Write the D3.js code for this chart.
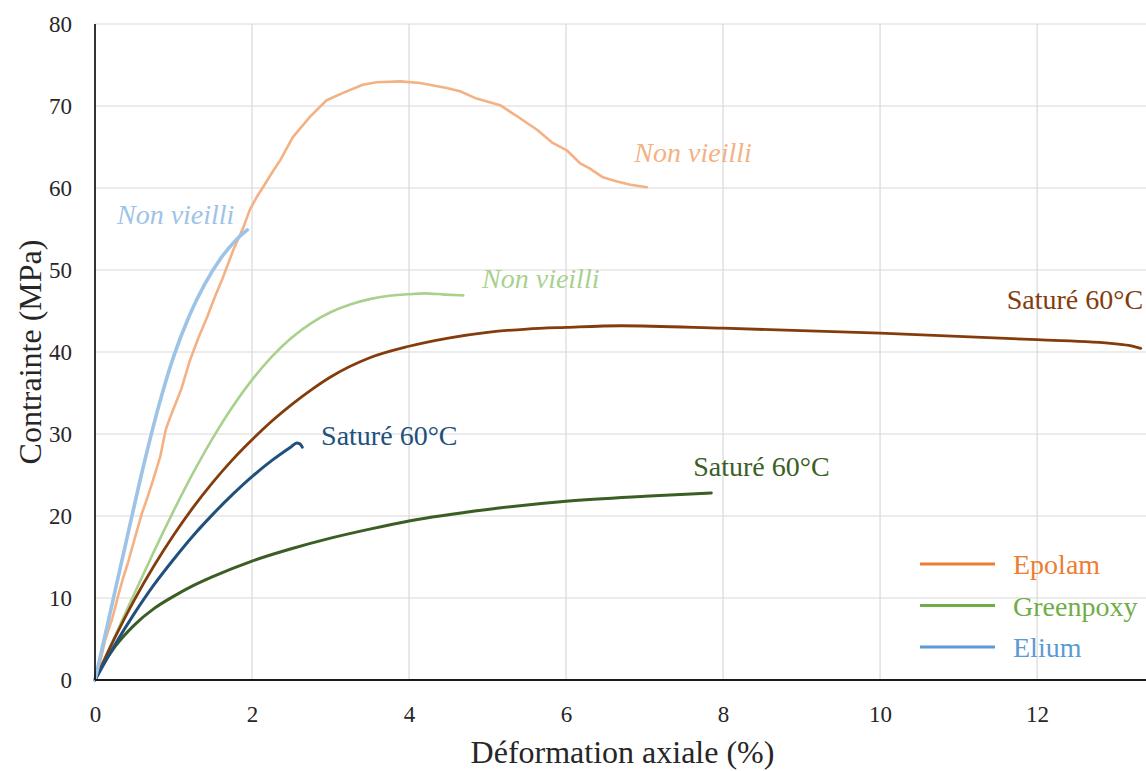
<!DOCTYPE html>
<html><head><meta charset="utf-8">
<script src="https://cdn.jsdelivr.net/npm/d3@7"></script>
<style>
html,body{margin:0;padding:0;background:#fff;}
svg{display:block;font-family:"Liberation Serif","Times New Roman",serif;}
</style></head>
<body>
<svg id="chart" width="1146" height="771"></svg>
<script>
// ---- data (strain %, stress MPa) ----
const xTicks = [0, 2, 4, 6, 8, 10, 12];
const yTicks = [0, 10, 20, 30, 40, 50, 60, 70, 80];

const epolamNV = [[0,0],[0.06,2],[0.13,4.9],[0.22,7.5],[0.29,10.1],[0.36,12.5],[0.42,14.3],[0.51,17.4],[0.6,20.4],[0.67,22.3],[0.74,24.4],[0.83,27.2],[0.9,30.5],[0.96,32.1],[1.1,35.5],[1.21,39],[1.32,41.8],[1.43,44.3],[1.53,46.8],[1.63,49.1],[1.76,52.4],[1.89,55.2],[1.97,57.3],[2.06,58.9],[2.14,60.1],[2.25,61.8],[2.36,63.4],[2.52,66.2],[2.74,68.7],[2.95,70.7],[3.16,71.6],[3.41,72.6],[3.59,72.9],[3.89,73.0],[4.14,72.8],[4.48,72.2],[4.65,71.8],[4.86,70.9],[5.16,70.1],[5.4,68.6],[5.63,67.1],[5.83,65.5],[6.01,64.6],[6.18,63],[6.3,62.4],[6.47,61.3],[6.65,60.8],[6.82,60.4],[7.03,60.1]];
const greenpoxyNV = [[0,0],[0.25,5.25],[0.5,10.5],[0.75,15.65],[1.0,20.6],[1.25,25.25],[1.5,29.5],[1.75,33.3],[2.0,36.6],[2.25,39.4],[2.5,41.7],[2.75,43.5],[3.0,44.85],[3.25,45.8],[3.5,46.45],[3.75,46.85],[4.0,47.05],[4.2,47.15],[4.45,47.0],[4.69,46.9]];
const eliumNV = [[0,0],[0.2,8.5],[0.4,17],[0.6,25.4],[0.8,33],[1.0,39.4],[1.2,44.4],[1.4,48.3],[1.6,51.4],[1.8,53.7],[1.94,54.9]];
const epolamSat = [[0,0],[0.25,5.1],[0.5,9.75],[0.75,13.9],[1.0,17.65],[1.25,21.05],[1.5,24.1],[1.75,26.85],[2.0,29.3],[2.25,31.55],[2.5,33.55],[2.75,35.35],[3.0,36.95],[3.5,39.3],[4.0,40.7],[4.5,41.7],[5.0,42.4],[5.5,42.8],[6.0,43.0],[6.7,43.2],[8.0,42.9],[10.0,42.3],[12.0,41.5],[13.0,41.0],[13.2,40.75],[13.32,40.45]];
const greenpoxySat = [[0,0],[0.1,1.8],[0.25,4.0],[0.5,6.7],[0.75,8.7],[1.0,10.2],[1.25,11.5],[1.5,12.6],[2.0,14.5],[2.5,16.0],[3.0,17.3],[3.5,18.4],[4.0,19.4],[5.0,20.8],[6.0,21.8],[7.0,22.4],[7.85,22.8]];
const eliumSat = [[0,0],[0.25,4.25],[0.5,8.1],[0.75,11.6],[1.0,14.7],[1.25,17.6],[1.5,20.2],[1.75,22.6],[2.0,24.8],[2.25,26.75],[2.5,28.45],[2.57,28.9],[2.61,28.8],[2.64,28.4]];

const legendNames = ["Epolam", "Greenpoxy", "Elium"];
const labelNonVieilli = "Non vieilli";
const labelSature = "Saturé 60°C";
const xTitle = "Déformation axiale (%)";
const yTitle = "Contrainte (MPa)";

// ---- layout / style ----
const svg = d3.select("#chart");
const x = d3.scaleLinear().domain([0, 13.4]).range([95, 1147]);
const y = d3.scaleLinear().domain([0, 80]).range([680, 24]);

const series = [
  {data: epolamNV, color: "#F4B183", w: 2.6, curve: d3.curveLinear},
  {data: greenpoxyNV, color: "#A9D18E", w: 2.6, curve: d3.curveMonotoneX},
  {data: epolamSat, color: "#843C0C", w: 2.8, curve: d3.curveMonotoneX},
  {data: greenpoxySat, color: "#3B5E25", w: 3, curve: d3.curveMonotoneX},
  {data: eliumSat, color: "#22507E", w: 3, curve: d3.curveMonotoneX},
  {data: eliumNV, color: "#9DC3E6", w: 3.6, curve: d3.curveMonotoneX}
];

// gridlines
svg.append("g").selectAll("line.h").data(yTicks).join("line")
  .attr("x1", x(0)).attr("x2", 1146).attr("y1", d => y(d)).attr("y2", d => y(d))
  .attr("stroke", "#D9D9D9").attr("stroke-width", 1.2);
svg.append("g").selectAll("line.v").data(xTicks.slice(1)).join("line")
  .attr("x1", d => x(d)).attr("x2", d => x(d)).attr("y1", y(80)).attr("y2", y(0))
  .attr("stroke", "#D9D9D9").attr("stroke-width", 1.2);

// axes
const xAxis = d3.axisBottom(x).tickValues(xTicks).tickSize(0).tickPadding(26).tickFormat(d3.format("d"));
const gx = svg.append("g").attr("transform", `translate(0,${y(0)})`).call(xAxis);
gx.select(".domain").remove();
gx.selectAll("text").attr("font-size", 23).attr("fill", "#262626").attr("font-family", "Liberation Serif");
const yAxis = d3.axisLeft(y).tickValues(yTicks).tickSize(0).tickPadding(23).tickFormat(d3.format("d"));
const gy = svg.append("g").attr("transform", `translate(${x(0)},0)`).call(yAxis);
gy.select(".domain").remove();
gy.selectAll("text").attr("font-size", 23).attr("fill", "#262626").attr("font-family", "Liberation Serif");

// lines
const line = d3.line().x(d => x(d[0])).y(d => y(d[1]));
series.forEach(s => {
  svg.append("path").datum(s.data)
    .attr("d", line.curve(s.curve))
    .attr("fill", "none").attr("stroke", s.color)
    .attr("stroke-width", s.w).attr("stroke-linejoin", "round").attr("stroke-linecap", "round");
});

// axis lines
svg.append("line").attr("x1", x(0)).attr("x2", x(0)).attr("y1", y(80)).attr("y2", y(0))
  .attr("stroke", "#000").attr("stroke-width", 1.6);
svg.append("line").attr("x1", x(0)).attr("x2", 1146).attr("y1", y(0)).attr("y2", y(0))
  .attr("stroke", "#1a1a1a").attr("stroke-width", 2);

// annotations (anchor in data units: x, y baseline)
const annotations = [
  {text: labelNonVieilli, ax: 0.28, ay: 55.6, color: "#9DC3E6", italic: true, anchor: "start"},
  {text: labelNonVieilli, ax: 6.87, ay: 63.2, color: "#F4B183", italic: true, anchor: "start"},
  {text: labelNonVieilli, ax: 4.93, ay: 47.8, color: "#A9D18E", italic: true, anchor: "start"},
  {text: labelSature, ax: 13.35, ay: 45.2, color: "#843C0C", italic: false, anchor: "end"},
  {text: labelSature, ax: 2.88, ay: 28.6, color: "#22507E", italic: false, anchor: "start"},
  {text: labelSature, ax: 7.62, ay: 24.9, color: "#3B5E25", italic: false, anchor: "start"}
];
svg.append("g").selectAll("text").data(annotations).join("text")
  .attr("x", d => x(d.ax)).attr("y", d => y(d.ay))
  .attr("text-anchor", d => d.anchor)
  .attr("font-size", 28)
  .attr("font-style", d => d.italic ? "italic" : "normal")
  .attr("fill", d => d.color)
  .text(d => d.text);

// legend
const legendColors = ["#ED7D31", "#70AD47", "#5B9BD5"];
const lg = svg.append("g");
legendNames.forEach((n, i) => {
  const yy = 564 + i * 41.5;
  lg.append("line").attr("x1", 920).attr("x2", 995).attr("y1", yy).attr("y2", yy)
    .attr("stroke", legendColors[i]).attr("stroke-width", 3);
  lg.append("text").attr("x", 1013).attr("y", yy + 10).attr("font-size", 28)
    .attr("fill", legendColors[i]).text(n);
});

// axis titles
svg.append("text").attr("x", x(0) + (1146 - x(0)) / 2 + 2).attr("y", 763)
  .attr("text-anchor", "middle").attr("font-size", 32).attr("fill", "#262626").text(xTitle);
svg.append("text").attr("transform", `translate(41,352) rotate(-90)`)
  .attr("text-anchor", "middle").attr("font-size", 32).attr("fill", "#262626").text(yTitle);
</script>
</body></html>
